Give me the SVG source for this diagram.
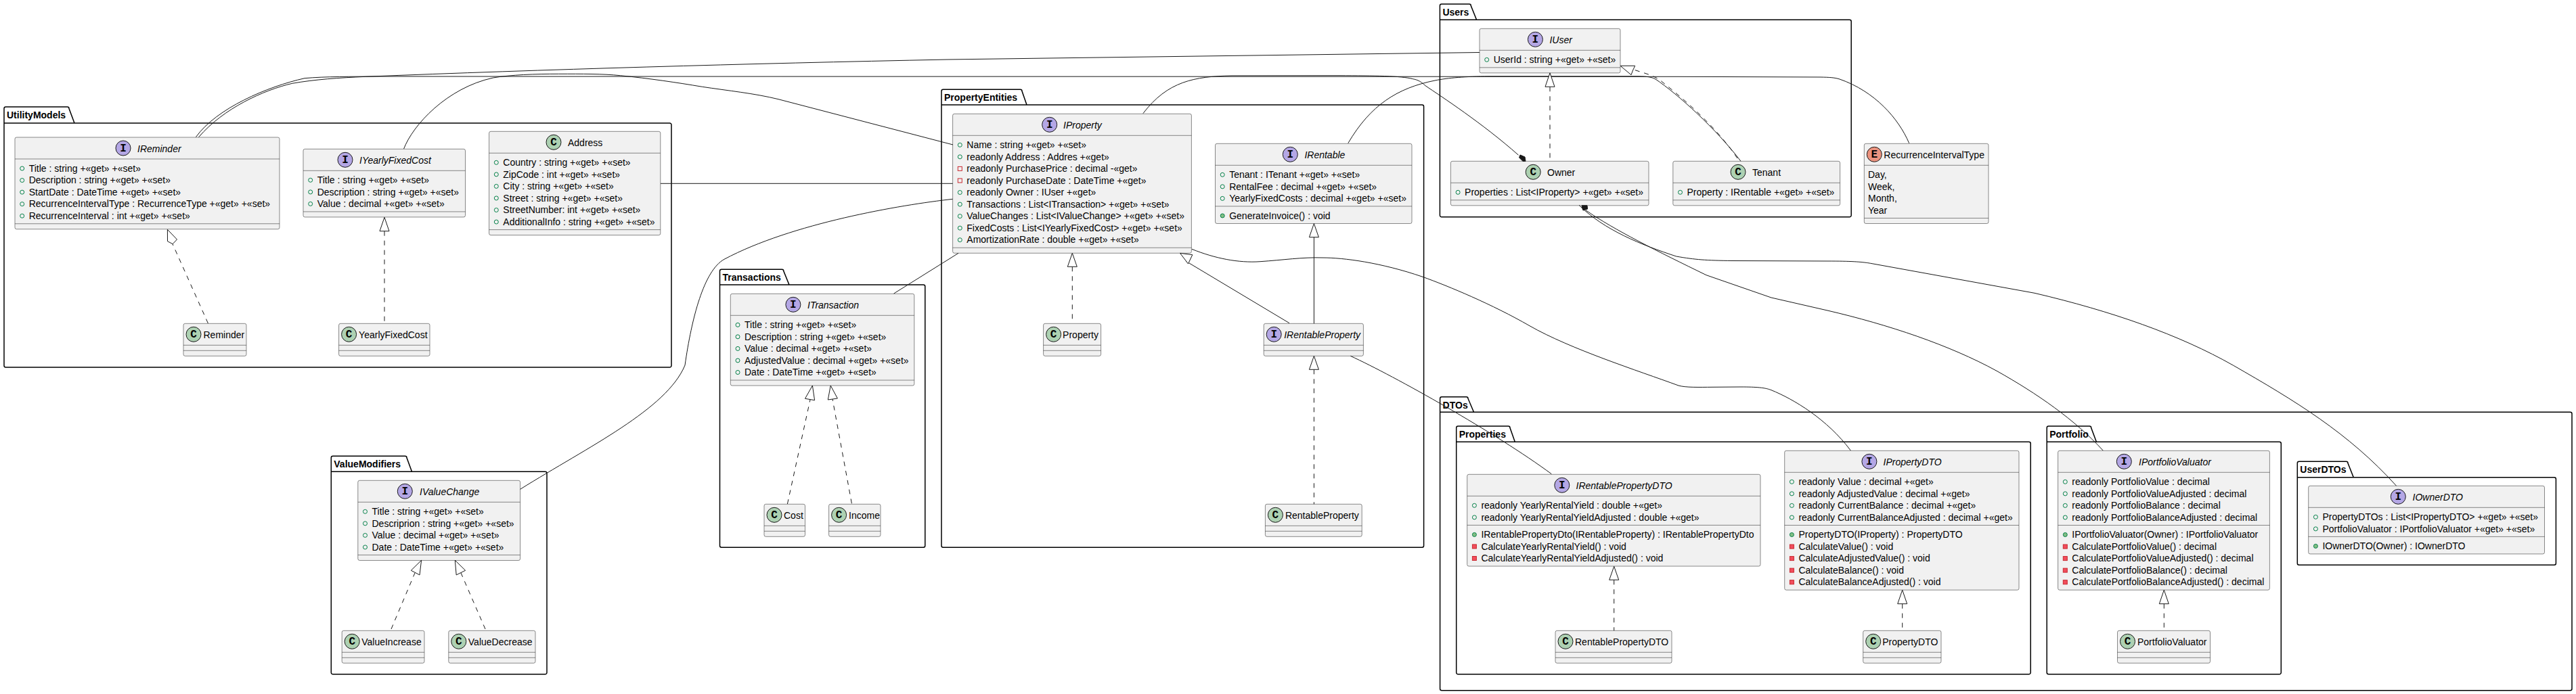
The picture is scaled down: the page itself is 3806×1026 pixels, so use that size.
<svg xmlns="http://www.w3.org/2000/svg" width="3806" height="1026" viewBox="0 0 3806 1026">
<style>
text{font-family:"Liberation Sans",Arial,sans-serif;font-size:14px;fill:#000}
.pk{fill:none;stroke:#000;stroke-width:1.5}
.pt{font-weight:bold}
.b{fill:#F1F1F1;stroke:#181818;stroke-width:.5}
.s{stroke:#181818;stroke-width:.5}
.ci{fill:#B4A7E5;stroke:#181818}
.cc{fill:#ADD1B2;stroke:#181818}
.ce{fill:#EB937F;stroke:#181818}
text.g{font-family:"Liberation Mono",monospace;font-weight:bold;font-size:16px;text-anchor:middle}
.i{font-style:italic}
.p{fill:none;stroke:#038048}
.q{fill:#84BE84;stroke:#038048}
.r{fill:none;stroke:#C82930}
.v{fill:#F24D5C;stroke:#C82930}
.l{fill:none;stroke:#181818}
.d{fill:none;stroke:#181818;stroke-dasharray:7,7}
.h{fill:#fff;stroke:#181818}
.f{fill:#181818;stroke:#181818}
</style>
<rect width="3806" height="1026" fill="#fff"/>
<g id="packages">
<g id="pkg-UtilityModels"><path class="pk" d="M6,160.5A2.5,2.5 0 0 1 8.5,158H99.5A2.5,2.5 0 0 1 102,160.5L110,182H989.5A2.5,2.5 0 0 1 992,184.5V540.5A2.5,2.5 0 0 1 989.5,543H8.5A2.5,2.5 0 0 1 6,540.5ZM6,182H110"/><text class="pt" x="10" y="175">UtilityModels</text></g>
<g id="pkg-PropertyEntities"><path class="pk" d="M1391,134.8A2.5,2.5 0 0 1 1393.5,132.3H1507.5A2.5,2.5 0 0 1 1510,134.8L1517,155H2101.1A2.5,2.5 0 0 1 2103.6,157.5V806.8A2.5,2.5 0 0 1 2101.1,809.3H1393.5A2.5,2.5 0 0 1 1391,806.8ZM1391,155H1517"/><text class="pt" x="1395" y="149.3">PropertyEntities</text></g>
<g id="pkg-Transactions"><path class="pk" d="M1063.5,400.8A2.5,2.5 0 0 1 1066,398.3H1155.3A2.5,2.5 0 0 1 1157.8,400.8L1166,421H1364.3A2.5,2.5 0 0 1 1366.8,423.5V806.8A2.5,2.5 0 0 1 1364.3,809.3H1066A2.5,2.5 0 0 1 1063.5,806.8ZM1063.5,421H1166"/><text class="pt" x="1067.5" y="415.3">Transactions</text></g>
<g id="pkg-ValueModifiers"><path class="pk" d="M489.3,676.8A2.5,2.5 0 0 1 491.8,674.3H598.5A2.5,2.5 0 0 1 601,676.8L608.5,697.3H805.5A2.5,2.5 0 0 1 808,699.8V994.2A2.5,2.5 0 0 1 805.5,996.7H491.8A2.5,2.5 0 0 1 489.3,994.2ZM489.3,697.3H608.5"/><text class="pt" x="493.3" y="691.3">ValueModifiers</text></g>
<g id="pkg-Users"><path class="pk" d="M2127.4,8.5A2.5,2.5 0 0 1 2129.9,6H2170.8A2.5,2.5 0 0 1 2173.3,8.5L2181.6,29.3H2732.7A2.5,2.5 0 0 1 2735.2,31.8V318.2A2.5,2.5 0 0 1 2732.7,320.7H2129.9A2.5,2.5 0 0 1 2127.4,318.2ZM2127.4,29.3H2181.6"/><text class="pt" x="2131.4" y="23">Users</text></g>
<g id="pkg-DTOs"><path class="pk" d="M2127.6,589.2A2.5,2.5 0 0 1 2130.1,586.7H2166.5A2.5,2.5 0 0 1 2169,589.2L2177.5,609.3H3797.5A2.5,2.5 0 0 1 3800,611.8V1018.2A2.5,2.5 0 0 1 3797.5,1020.7H2130.1A2.5,2.5 0 0 1 2127.6,1018.2ZM2127.6,609.3H2177.5"/><text class="pt" x="2131.6" y="603.7">DTOs</text></g>
<g id="pkg-Properties"><path class="pk" d="M2151.7,632.5A2.5,2.5 0 0 1 2154.2,630H2228.5A2.5,2.5 0 0 1 2231,632.5L2238.3,653.3H2997.7A2.5,2.5 0 0 1 3000.2,655.8V994.2A2.5,2.5 0 0 1 2997.7,996.7H2154.2A2.5,2.5 0 0 1 2151.7,994.2ZM2151.7,653.3H2238.3"/><text class="pt" x="2155.7" y="647">Properties</text></g>
<g id="pkg-Portfolio"><path class="pk" d="M3024.2,632.5A2.5,2.5 0 0 1 3026.7,630H3087.2A2.5,2.5 0 0 1 3089.7,632.5L3097.4,653.3H3367.8A2.5,2.5 0 0 1 3370.3,655.8V994.2A2.5,2.5 0 0 1 3367.8,996.7H3026.7A2.5,2.5 0 0 1 3024.2,994.2ZM3024.2,653.3H3097.4"/><text class="pt" x="3028.2" y="647">Portfolio</text></g>
<g id="pkg-UserDTOs"><path class="pk" d="M3394.3,684.8A2.5,2.5 0 0 1 3396.8,682.3H3466.5A2.5,2.5 0 0 1 3469,684.8L3477.3,705.7H3773.9A2.5,2.5 0 0 1 3776.4,708.2V832.8A2.5,2.5 0 0 1 3773.9,835.3H3396.8A2.5,2.5 0 0 1 3394.3,832.8ZM3394.3,705.7H3477.3"/><text class="pt" x="3398.3" y="699.3">UserDTOs</text></g>
</g>
<g id="nodes">
<g id="IReminder" transform="translate(22,203)"><rect class="b" width="391" height="135.75" rx="2.5"/><path class="s" d="M0,32H391M0,127.75H391"/><circle class="ci" cx="160" cy="16" r="11"/><text class="g" x="160" y="21">I</text><text class="i" x="181" y="21.7">IReminder</text>
<circle class="p" cx="10.7" cy="46" r="3"/><text x="20.7" y="50.7">Title : string +«get» +«set»</text>
<circle class="p" cx="10.7" cy="63.55" r="3"/><text x="20.7" y="68.25">Description : string +«get» +«set»</text>
<circle class="p" cx="10.7" cy="81.1" r="3"/><text x="20.7" y="85.8">StartDate : DateTime +«get» +«set»</text>
<circle class="p" cx="10.7" cy="98.65" r="3"/><text x="20.7" y="103.35">RecurrenceIntervalType : RecurrenceType +«get» +«set»</text>
<circle class="p" cx="10.7" cy="116.2" r="3"/><text x="20.7" y="120.9">RecurrenceInterval : int +«get» +«set»</text></g>
<g id="IYearlyFixedCost" transform="translate(448,220.3)"><rect class="b" width="239.5" height="100.65" rx="2.5"/><path class="s" d="M0,32H239.5M0,92.65H239.5"/><circle class="ci" cx="62" cy="16" r="11"/><text class="g" x="62" y="21">I</text><text class="i" x="83" y="21.7">IYearlyFixedCost</text>
<circle class="p" cx="10.7" cy="46" r="3"/><text x="20.7" y="50.7">Title : string +«get» +«set»</text>
<circle class="p" cx="10.7" cy="63.55" r="3"/><text x="20.7" y="68.25">Description : string +«get» +«set»</text>
<circle class="p" cx="10.7" cy="81.1" r="3"/><text x="20.7" y="85.8">Value : decimal +«get» +«set»</text></g>
<g id="Address" transform="translate(722.6,194.3)"><rect class="b" width="253.2" height="153.3" rx="2.5"/><path class="s" d="M0,32H253.2M0,145.3H253.2"/><circle class="cc" cx="95.4" cy="16" r="11"/><text class="g" x="95.4" y="21">C</text><text x="116.4" y="21.7">Address</text>
<circle class="p" cx="10.7" cy="46" r="3"/><text x="20.7" y="50.7">Country : string +«get» +«set»</text>
<circle class="p" cx="10.7" cy="63.55" r="3"/><text x="20.7" y="68.25">ZipCode : int +«get» +«set»</text>
<circle class="p" cx="10.7" cy="81.1" r="3"/><text x="20.7" y="85.8">City : string +«get» +«set»</text>
<circle class="p" cx="10.7" cy="98.65" r="3"/><text x="20.7" y="103.35">Street : string +«get» +«set»</text>
<circle class="p" cx="10.7" cy="116.2" r="3"/><text x="20.7" y="120.9">StreetNumber: int +«get» +«set»</text>
<circle class="p" cx="10.7" cy="133.75" r="3"/><text x="20.7" y="138.45">AdditionalInfo : string +«get» +«set»</text></g>
<g id="Reminder" transform="translate(271,478.3)"><rect class="b" width="93" height="48" rx="2.5"/><path class="s" d="M0,32H93M0,40H93"/><circle class="cc" cx="15" cy="16" r="11"/><text class="g" x="15" y="21">C</text><text x="29.5" y="21.7">Reminder</text></g>
<g id="YearlyFixedCost" transform="translate(500.6,478.3)"><rect class="b" width="134.4" height="48" rx="2.5"/><path class="s" d="M0,32H134.4M0,40H134.4"/><circle class="cc" cx="15" cy="16" r="11"/><text class="g" x="15" y="21">C</text><text x="29.5" y="21.7">YearlyFixedCost</text></g>
<g id="IProperty" transform="translate(1407.6,168.3)"><rect class="b" width="352.8" height="205.95" rx="2.5"/><path class="s" d="M0,32H352.8M0,197.95H352.8"/><circle class="ci" cx="143.1" cy="16" r="11"/><text class="g" x="143.1" y="21">I</text><text class="i" x="163.4" y="21.7">IProperty</text>
<circle class="p" cx="10.7" cy="46" r="3"/><text x="20.7" y="50.7">Name : string +«get» +«set»</text>
<circle class="p" cx="10.7" cy="63.55" r="3"/><text x="20.7" y="68.25">readonly Address : Addres +«get»</text>
<rect class="r" x="7.7" y="78.1" width="6" height="6"/><text x="20.7" y="85.8">readonly PurchasePrice : decimal -«get»</text>
<rect class="r" x="7.7" y="95.65" width="6" height="6"/><text x="20.7" y="103.35">readonly PurchaseDate : DateTime +«get»</text>
<circle class="p" cx="10.7" cy="116.2" r="3"/><text x="20.7" y="120.9">readonly Owner : IUser +«get»</text>
<circle class="p" cx="10.7" cy="133.75" r="3"/><text x="20.7" y="138.45">Transactions : List&lt;ITransaction&gt; +«get» +«set»</text>
<circle class="p" cx="10.7" cy="151.3" r="3"/><text x="20.7" y="156">ValueChanges : List&lt;IValueChange&gt; +«get» +«set»</text>
<circle class="p" cx="10.7" cy="168.85" r="3"/><text x="20.7" y="173.55">FixedCosts : List&lt;IYearlyFixedCost&gt; +«get» +«set»</text>
<circle class="p" cx="10.7" cy="186.4" r="3"/><text x="20.7" y="191.1">AmortizationRate : double +«get» +«set»</text></g>
<g id="IRentable" transform="translate(1795.5,212.3)"><rect class="b" width="290.5" height="118.2" rx="2.5"/><path class="s" d="M0,32H290.5M0,92.65H290.5"/><circle class="ci" cx="110.8" cy="16" r="11"/><text class="g" x="110.8" y="21">I</text><text class="i" x="131.9" y="21.7">IRentable</text>
<circle class="p" cx="10.7" cy="46" r="3"/><text x="20.7" y="50.7">Tenant : ITenant +«get» +«set»</text>
<circle class="p" cx="10.7" cy="63.55" r="3"/><text x="20.7" y="68.25">RentalFee : decimal +«get» +«set»</text>
<circle class="p" cx="10.7" cy="81.1" r="3"/><text x="20.7" y="85.8">YearlyFixedCosts : decimal +«get» +«set»</text>
<circle class="q" cx="10.7" cy="106.65" r="3"/><text x="20.7" y="111.35">GenerateInvoice() : void</text></g>
<g id="Property" transform="translate(1541.6,478.3)"><rect class="b" width="85" height="48" rx="2.5"/><path class="s" d="M0,32H85M0,40H85"/><circle class="cc" cx="15" cy="16" r="11"/><text class="g" x="15" y="21">C</text><text x="28.5" y="21.7">Property</text></g>
<g id="IRentableProperty" transform="translate(1867.2,478.3)"><rect class="b" width="147.2" height="48" rx="2.5"/><path class="s" d="M0,32H147.2M0,40H147.2"/><circle class="ci" cx="15" cy="16" r="11"/><text class="g" x="15" y="21">I</text><text class="i" x="30" y="21.7">IRentableProperty</text></g>
<g id="RentableProperty" transform="translate(1869.4,745.3)"><rect class="b" width="142.8" height="48" rx="2.5"/><path class="s" d="M0,32H142.8M0,40H142.8"/><circle class="cc" cx="15" cy="16" r="11"/><text class="g" x="15" y="21">C</text><text x="29.5" y="21.7">RentableProperty</text></g>
<g id="ITransaction" transform="translate(1079.3,434.3)"><rect class="b" width="271.5" height="135.75" rx="2.5"/><path class="s" d="M0,32H271.5M0,127.75H271.5"/><circle class="ci" cx="92.6" cy="16" r="11"/><text class="g" x="92.6" y="21">I</text><text class="i" x="113.7" y="21.7">ITransaction</text>
<circle class="p" cx="10.7" cy="46" r="3"/><text x="20.7" y="50.7">Title : string +«get» +«set»</text>
<circle class="p" cx="10.7" cy="63.55" r="3"/><text x="20.7" y="68.25">Description : string +«get» +«set»</text>
<circle class="p" cx="10.7" cy="81.1" r="3"/><text x="20.7" y="85.8">Value : decimal +«get» +«set»</text>
<circle class="p" cx="10.7" cy="98.65" r="3"/><text x="20.7" y="103.35">AdjustedValue : decimal +«get» +«set»</text>
<circle class="p" cx="10.7" cy="116.2" r="3"/><text x="20.7" y="120.9">Date : DateTime +«get» +«set»</text></g>
<g id="Cost" transform="translate(1129,745.3)"><rect class="b" width="60.5" height="48" rx="2.5"/><path class="s" d="M0,32H60.5M0,40H60.5"/><circle class="cc" cx="15" cy="16" r="11"/><text class="g" x="15" y="21">C</text><text x="29" y="21.7">Cost</text></g>
<g id="Income" transform="translate(1224.6,745.3)"><rect class="b" width="76.4" height="48" rx="2.5"/><path class="s" d="M0,32H76.4M0,40H76.4"/><circle class="cc" cx="15" cy="16" r="11"/><text class="g" x="15" y="21">C</text><text x="29.5" y="21.7">Income</text></g>
<g id="IValueChange" transform="translate(528.8,710.3)"><rect class="b" width="239.8" height="118.2" rx="2.5"/><path class="s" d="M0,32H239.8M0,110.2H239.8"/><circle class="ci" cx="69.5" cy="16" r="11"/><text class="g" x="69.5" y="21">I</text><text class="i" x="91.2" y="21.7">IValueChange</text>
<circle class="p" cx="10.7" cy="46" r="3"/><text x="20.7" y="50.7">Title : string +«get» +«set»</text>
<circle class="p" cx="10.7" cy="63.55" r="3"/><text x="20.7" y="68.25">Descriprion : string +«get» +«set»</text>
<circle class="p" cx="10.7" cy="81.1" r="3"/><text x="20.7" y="85.8">Value : decimal +«get» +«set»</text>
<circle class="p" cx="10.7" cy="98.65" r="3"/><text x="20.7" y="103.35">Date : DateTime +«get» +«set»</text></g>
<g id="ValueIncrease" transform="translate(505.2,932.3)"><rect class="b" width="121.8" height="48" rx="2.5"/><path class="s" d="M0,32H121.8M0,40H121.8"/><circle class="cc" cx="15" cy="16" r="11"/><text class="g" x="15" y="21">C</text><text x="29" y="21.7">ValueIncrease</text></g>
<g id="ValueDecrease" transform="translate(662.8,932.3)"><rect class="b" width="128.2" height="48" rx="2.5"/><path class="s" d="M0,32H128.2M0,40H128.2"/><circle class="cc" cx="15" cy="16" r="11"/><text class="g" x="15" y="21">C</text><text x="29" y="21.7">ValueDecrease</text></g>
<g id="IUser" transform="translate(2186,42.3)"><rect class="b" width="208" height="65.55" rx="2.5"/><path class="s" d="M0,32H208M0,57.55H208"/><circle class="ci" cx="82.4" cy="16" r="11"/><text class="g" x="82.4" y="21">I</text><text class="i" x="103.4" y="21.7">IUser</text>
<circle class="p" cx="10.7" cy="46" r="3"/><text x="20.7" y="50.7">UserId : string +«get» +«set»</text></g>
<g id="Owner" transform="translate(2143.4,238.3)"><rect class="b" width="292.6" height="65.55" rx="2.5"/><path class="s" d="M0,32H292.6M0,57.55H292.6"/><circle class="cc" cx="121.8" cy="16" r="11"/><text class="g" x="121.8" y="21">C</text><text x="142.6" y="21.7">Owner</text>
<circle class="p" cx="10.7" cy="46" r="3"/><text x="20.7" y="50.7">Properties : List&lt;IProperty&gt; +«get» +«set»</text></g>
<g id="Tenant" transform="translate(2471.8,238.3)"><rect class="b" width="246.8" height="65.55" rx="2.5"/><path class="s" d="M0,32H246.8M0,57.55H246.8"/><circle class="cc" cx="96.2" cy="16" r="11"/><text class="g" x="96.2" y="21">C</text><text x="117.2" y="21.7">Tenant</text>
<circle class="p" cx="10.7" cy="46" r="3"/><text x="20.7" y="50.7">Property : IRentable +«get» +«set»</text></g>
<g id="RecurrenceIntervalType" transform="translate(2754.3,212.3)"><rect class="b" width="183.7" height="118.2" rx="2.5"/><path class="s" d="M0,32H183.7M0,110.2H183.7"/><circle class="ce" cx="15" cy="16" r="11"/><text class="g" x="15" y="21">E</text><text x="29" y="21.7">RecurrenceIntervalType</text>
<text x="5.7" y="50.7">Day,</text><text x="5.7" y="68.25">Week,</text><text x="5.7" y="85.8">Month,</text><text x="5.7" y="103.35">Year</text></g>
<g id="IRentablePropertyDTO" transform="translate(2167.7,701.3)"><rect class="b" width="433.3" height="135.75" rx="2.5"/><path class="s" d="M0,32H433.3M0,75.1H433.3"/><circle class="ci" cx="140.1" cy="16" r="11"/><text class="g" x="140.1" y="21">I</text><text class="i" x="160.8" y="21.7">IRentablePropertyDTO</text>
<circle class="p" cx="10.7" cy="46" r="3"/><text x="20.7" y="50.7">readonly YearlyRentalYield : double +«get»</text>
<circle class="p" cx="10.7" cy="63.55" r="3"/><text x="20.7" y="68.25">readonly YearlyRentalYieldAdjusted : double +«get»</text>
<circle class="q" cx="10.7" cy="89.1" r="3"/><text x="20.7" y="93.8">IRentablePropertyDto(IRentableProperty) : IRentablePropertyDto</text>
<rect class="v" x="7.7" y="103.65" width="6" height="6"/><text x="20.7" y="111.35">CalculateYearlyRentalYield() : void</text>
<rect class="v" x="7.7" y="121.2" width="6" height="6"/><text x="20.7" y="128.9">CalculateYearlyRentalYieldAdjusted() : void</text></g>
<g id="IPropertyDTO" transform="translate(2636.7,666.3)"><rect class="b" width="346.3" height="205.95" rx="2.5"/><path class="s" d="M0,32H346.3M0,110.2H346.3"/><circle class="ci" cx="125.2" cy="16" r="11"/><text class="g" x="125.2" y="21">I</text><text class="i" x="145.8" y="21.7">IPropertyDTO</text>
<circle class="p" cx="10.7" cy="46" r="3"/><text x="20.7" y="50.7">readonly Value : decimal +«get»</text>
<circle class="p" cx="10.7" cy="63.55" r="3"/><text x="20.7" y="68.25">readonly AdjustedValue : decimal +«get»</text>
<circle class="p" cx="10.7" cy="81.1" r="3"/><text x="20.7" y="85.8">readonly CurrentBalance : decimal +«get»</text>
<circle class="p" cx="10.7" cy="98.65" r="3"/><text x="20.7" y="103.35">readonly CurrentBalanceAdjusted : decimal +«get»</text>
<circle class="q" cx="10.7" cy="124.2" r="3"/><text x="20.7" y="128.9">PropertyDTO(IProperty) : PropertyDTO</text>
<rect class="v" x="7.7" y="138.75" width="6" height="6"/><text x="20.7" y="146.45">CalculateValue() : void</text>
<rect class="v" x="7.7" y="156.3" width="6" height="6"/><text x="20.7" y="164">CalculateAdjustedValue() : void</text>
<rect class="v" x="7.7" y="173.85" width="6" height="6"/><text x="20.7" y="181.55">CalculateBalance() : void</text>
<rect class="v" x="7.7" y="191.4" width="6" height="6"/><text x="20.7" y="199.1">CalculateBalanceAdjusted() : void</text></g>
<g id="IPortfolioValuator" transform="translate(3040.6,666.3)"><rect class="b" width="312.8" height="205.95" rx="2.5"/><path class="s" d="M0,32H312.8M0,110.2H312.8"/><circle class="ci" cx="97.7" cy="16" r="11"/><text class="g" x="97.7" y="21">I</text><text class="i" x="119.4" y="21.7">IPortfolioValuator</text>
<circle class="p" cx="10.7" cy="46" r="3"/><text x="20.7" y="50.7">readonly PortfolioValue : decimal</text>
<circle class="p" cx="10.7" cy="63.55" r="3"/><text x="20.7" y="68.25">readonly PortfolioValueAdjusted : decimal</text>
<circle class="p" cx="10.7" cy="81.1" r="3"/><text x="20.7" y="85.8">readonly PortfolioBalance : decimal</text>
<circle class="p" cx="10.7" cy="98.65" r="3"/><text x="20.7" y="103.35">readonly PortfolioBalanceAdjusted : decimal</text>
<circle class="q" cx="10.7" cy="124.2" r="3"/><text x="20.7" y="128.9">IPortfolioValuator(Owner) : IPortfolioValuator</text>
<rect class="v" x="7.7" y="138.75" width="6" height="6"/><text x="20.7" y="146.45">CalculatePortfolioValue() : decimal</text>
<rect class="v" x="7.7" y="156.3" width="6" height="6"/><text x="20.7" y="164">CalculatePortfolioValueAdjusted() : decimal</text>
<rect class="v" x="7.7" y="173.85" width="6" height="6"/><text x="20.7" y="181.55">CalculatePortfolioBalance() : decimal</text>
<rect class="v" x="7.7" y="191.4" width="6" height="6"/><text x="20.7" y="199.1">CalculatePortfolioBalanceAdjusted() : decimal</text></g>
<g id="IOwnerDTO" transform="translate(3410.7,718.3)"><rect class="b" width="348.8" height="100.65" rx="2.5"/><path class="s" d="M0,32H348.8M0,75.1H348.8"/><circle class="ci" cx="132.6" cy="16" r="11"/><text class="g" x="132.6" y="21">I</text><text class="i" x="153.9" y="21.7">IOwnerDTO</text>
<circle class="p" cx="10.7" cy="46" r="3"/><text x="20.7" y="50.7">PropertyDTOs : List&lt;IPropertyDTO&gt; +«get» +«set»</text>
<circle class="p" cx="10.7" cy="63.55" r="3"/><text x="20.7" y="68.25">PortfolioValuator : IPortfolioValuator +«get» +«set»</text>
<circle class="q" cx="10.7" cy="89.1" r="3"/><text x="20.7" y="93.8">IOwnerDTO(Owner) : IOwnerDTO</text></g>
<g id="RentablePropertyDTO" transform="translate(2298,932.3)"><rect class="b" width="172" height="48" rx="2.5"/><path class="s" d="M0,32H172M0,40H172"/><circle class="cc" cx="15" cy="16" r="11"/><text class="g" x="15" y="21">C</text><text x="29" y="21.7">RentablePropertyDTO</text></g>
<g id="PropertyDTO" transform="translate(2752.7,932.3)"><rect class="b" width="115.3" height="48" rx="2.5"/><path class="s" d="M0,32H115.3M0,40H115.3"/><circle class="cc" cx="15" cy="16" r="11"/><text class="g" x="15" y="21">C</text><text x="28.5" y="21.7">PropertyDTO</text></g>
<g id="PortfolioValuator" transform="translate(3128.5,932.3)"><rect class="b" width="137" height="48" rx="2.5"/><path class="s" d="M0,32H137M0,40H137"/><circle class="cc" cx="15" cy="16" r="11"/><text class="g" x="15" y="21">C</text><text x="29.5" y="21.7">PortfolioValuator</text></g>
</g>
<g id="connectors">
<path class="l" d="M289.4,202.7C320,160 395,128 450,115.7C480,113 520,113.3 560,113L2480,113.3L2690,114C2703,114.3 2710,114.5 2718,117C2770,135 2805,175 2820.7,211.7"/>
<path class="l" d="M293.6,202.7C330,160 390,133 431.8,123.3C465,117.5 500,115 540.8,113.3C800,103 1100,94 1400,88L2186,77.5"/>
<path class="l" d="M596.6,220C610,185 660,130 728.6,115C755,110.5 790,109.3 825.6,109.3C860,109.3 890,109 916.5,111.7C960,116 1000,122 1037.6,128.3C1075,134 1115,138 1150,146.7L1408,214"/>
<path class="l" d="M976,271.3H1407.6"/>
<path class="l" d="M1407.6,294.3C1330,303 1170,330 1070,383.3C1040,400 1022,470 1012,540C985,605 870,660 768.6,723.3"/>
<path class="l" d="M1416,374.3L1320.6,434"/>
<path class="l" d="M1688.9,167.7C1725,120 1765,113 1820,111.9L1979,111.7C2030,112 2070,112 2087.5,116.7C2095,118 2100,121 2106,126.7C2130,143 2190,182 2243.5,229.3"/>
<polygon class="f" points="2246,229 2244.5,233 2250,238.3 2254,238.3 2253,232"/>
<path class="l" d="M1991.8,211.7C2025,155 2065,130 2120,119C2140,115 2165,113 2200,112.8L2420,112.8C2435,113 2440,114 2446,117C2480,140 2535,190 2572,238.3"/>
<path class="d" d="M2567,234C2535,187 2490,148 2452,118C2440,110 2425,107 2414,103"/>
<polygon class="h" points="2394,97.3 2415.7,97.3 2412.5,104 2410,110.7"/>
<path class="d" d="M2290,128.3V238.3"/>
<polygon class="h" points="2290,107.8 2283,128.3 2297,128.3"/>
<path class="d" d="M307.4,478L255,360.7"/>
<polygon class="h" points="247.4,339.3 247.5,356.7 255.1,360.7 261.5,354"/>
<path class="d" d="M568,341.7V478.3"/>
<polygon class="h" points="568,321.3 561,341.7 575,341.7"/>
<path class="d" d="M1584.3,394.3V478.3"/>
<polygon class="h" points="1584.3,374.3 1577.3,394.3 1591.3,394.3"/>
<path class="l" d="M1905,477.7L1752,386"/>
<polygon class="h" points="1743.6,374.3 1761.8,376.7 1755.5,390"/>
<path class="l" d="M1941.4,350.7V478.3"/>
<polygon class="h" points="1941.4,330.5 1934.4,350.7 1948.4,350.7"/>
<path class="d" d="M1941.4,546.3V745.3"/>
<polygon class="h" points="1941.4,526.3 1934.4,546.3 1948.4,546.3"/>
<path class="d" d="M1163.4,745L1197,591"/>
<polygon class="h" points="1200.4,570 1189.5,589.3 1203.6,591.7"/>
<path class="d" d="M1258.4,744.3L1230,590"/>
<polygon class="h" points="1227.2,570 1223.3,591 1237.4,589"/>
<path class="d" d="M578,930L613,847"/>
<polygon class="h" points="622.6,828.3 607.3,843.3 620,850"/>
<path class="d" d="M717,930L681,847"/>
<polygon class="h" points="672.3,828.3 687.6,843.3 674.2,850"/>
<path class="l" d="M1761,368.3C1795,382 1830,389 1862,386.7C1895,384.5 1925,380 1954,381C1985,381 2040,388 2102,409.3C2140,423 2205,450 2260,481.7C2320,516 2420,548 2480,570C2490,573 2510,572.5 2530,572.3L2572,572C2595,572 2608,573 2617,576.7C2650,590 2700,620 2734.3,666"/>
<path class="l" d="M1995.4,526.3C2060,556 2210,640 2292.3,700.7"/>
<path class="l" d="M2333,303.3C2370,340 2425,362 2476.7,379C2505,384 2520,385 2560,385.5L2700,386C2735,386 2750,387 2763.7,389.3L3006,433.3C3120,460 3220,495 3299.3,540C3390,592 3470,640 3540.6,718.3"/>
<path class="l" d="M2342.8,310.7C2385,340 2450,372 2521,406.7L2617,440L2700,459C2790,480 2880,510 2950,548.3C3010,582 3065,620 3107.2,666"/>
<polygon class="f" points="2337,303.8 2345,303.8 2345.6,309 2339,311 2337.5,307"/>
<path class="d" d="M2384.7,857.3V932.3"/>
<polygon class="h" points="2384.7,837.3 2377.7,857.3 2391.7,857.3"/>
<path class="d" d="M2810.7,892.7V932.3"/>
<polygon class="h" points="2810.7,872.3 2803.7,892.7 2817.7,892.7"/>
<path class="d" d="M3197.3,892.7V932.3"/>
<polygon class="h" points="3197.3,872.3 3190.3,892.7 3204.3,892.7"/>
</g>
</svg>
